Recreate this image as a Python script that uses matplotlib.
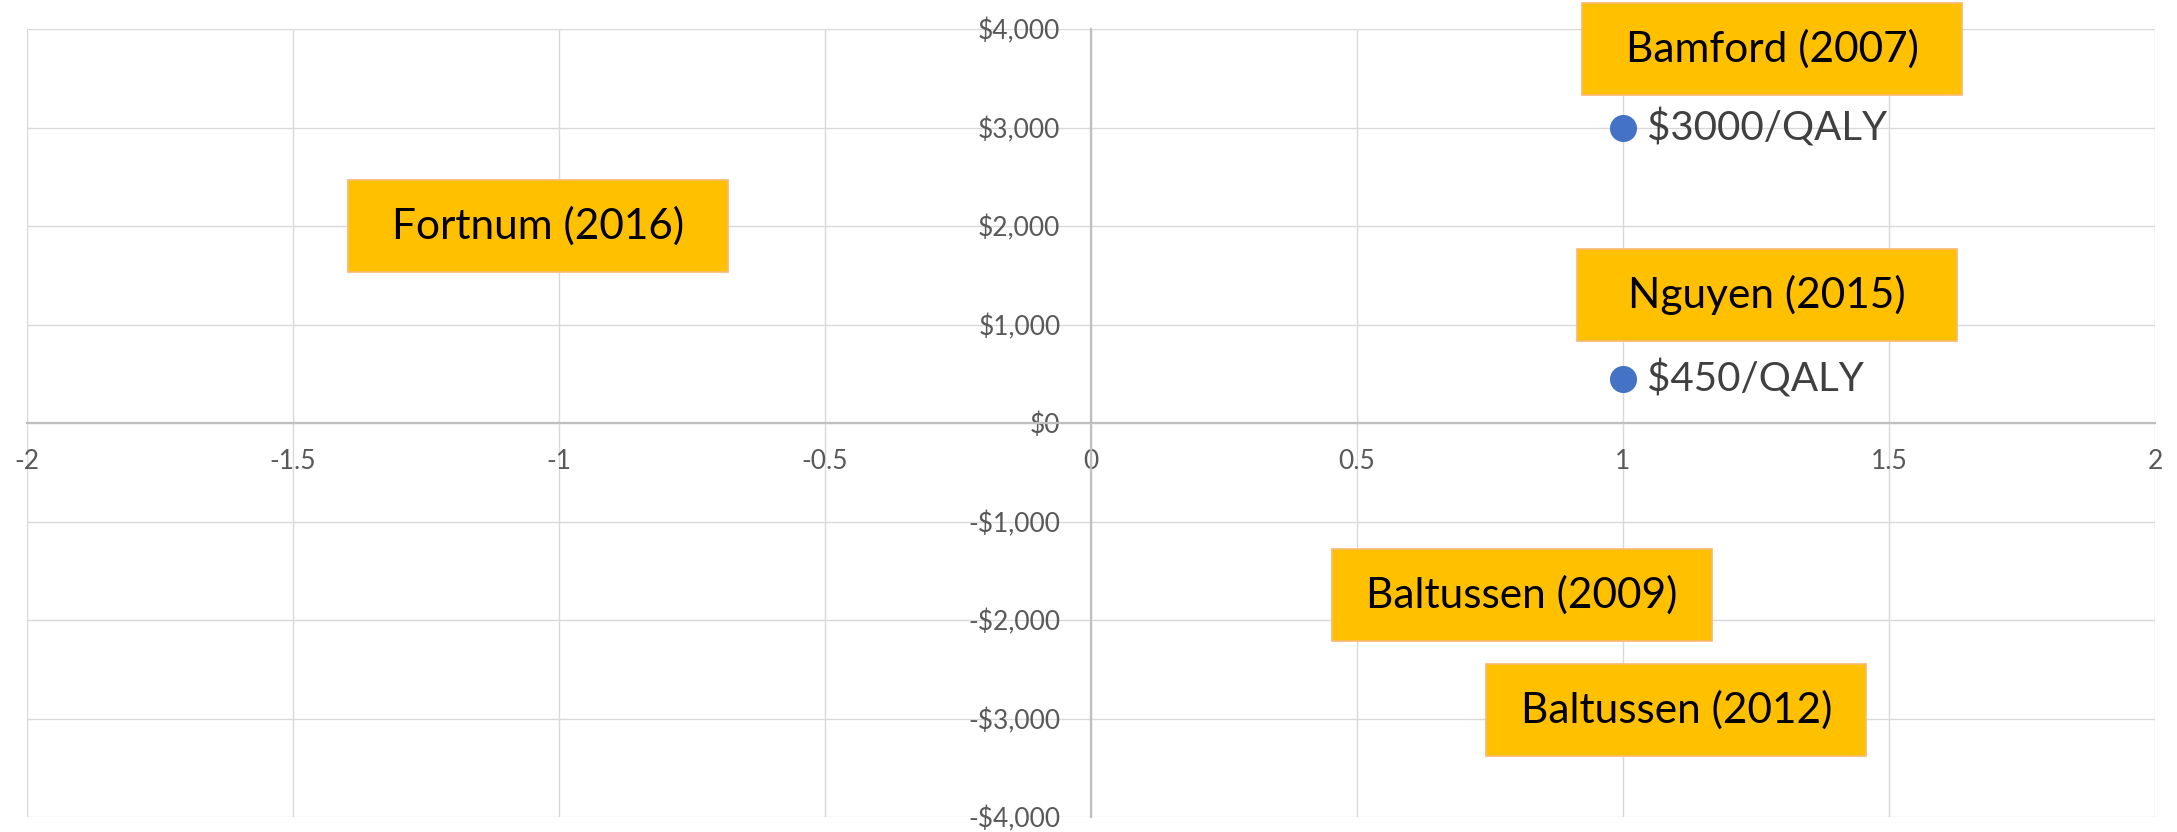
"""Cost-effectiveness plane: studies placed by QALY gain vs. incremental cost."""

import matplotlib

matplotlib.use("Agg")
import matplotlib.pyplot as plt  # noqa: E402
from matplotlib.patches import Rectangle  # noqa: E402

plt.rcParams["font.family"] = ["Lato", "DejaVu Sans"]

# data
point_x = [1, 1]
point_y = [3000, 450]
point_labels = ["$3000/QALY", "$450/QALY"]

study_names = ["Bamford (2007)", "Nguyen (2015)", "Fortnum (2016)",
               "Baltussen (2009)", "Baltussen (2012)"]
study_x = [1.28, 1.27, -1.04, 0.81, 1.10]
study_y = [3800, 1300, 2000, -1750, -2910]

x_ticks = [-2, -1.5, -1, -0.5, 0, 0.5, 1, 1.5, 2]
x_tick_labels = ["-2", "-1.5", "-1", "-0.5", "0", "0.5", "1", "1.5", "2"]
y_ticks = [-4000, -3000, -2000, -1000, 0, 1000, 2000, 3000, 4000]
y_tick_labels = ["-$4,000", "-$3,000", "-$2,000", "-$1,000", "$0",
                 "$1,000", "$2,000", "$3,000", "$4,000"]

fig = plt.figure(figsize=(21.77, 8.32), dpi=100)
ax = fig.add_axes([27 / 2177, 15 / 832, 2128 / 2177, 788 / 832])
ax.set_xlim(-2, 2)
ax.set_ylim(-4000, 4000)

ax.set_xticks(x_ticks)
ax.set_xticklabels(x_tick_labels)
ax.set_yticks(y_ticks)
ax.set_yticklabels(y_tick_labels)
ax.grid(True, color="#D9D9D9", lw=1.0, zorder=0)
ax.set_axisbelow(True)

for side in ("top", "right"):
    ax.spines[side].set_visible(False)
for side in ("left", "bottom"):
    ax.spines[side].set_position("zero")
    ax.spines[side].set_color("#BFBFBF")
    ax.spines[side].set_linewidth(1.6)
    ax.spines[side].set_zorder(1)
ax.tick_params(axis="y", length=0, pad=22, labelsize=19, labelcolor="#595959")
ax.tick_params(axis="x", length=0, pad=19, labelsize=19, labelcolor="#595959")

ax.scatter(point_x, point_y, s=19.5 ** 2, color="#4472C4", zorder=4, linewidths=0)
for x, y, lab in zip(point_x, point_y, point_labels):
    ax.annotate(lab, (x, y), xytext=(17, 0), textcoords="offset points",
                ha="left", va="center", fontsize=29, color="#404040", zorder=5)

box_w, box_h = 0.714, 934
for name, x, y in zip(study_names, study_x, study_y):
    ax.add_patch(Rectangle((x - box_w / 2, y - box_h / 2), box_w, box_h,
                           facecolor="#FFC000", edgecolor="#F8B870", lw=1.2,
                           zorder=5, clip_on=False))
    ax.text(x, y, name, ha="center", va="center", fontsize=30.5, color="black",
            zorder=6, clip_on=False)

fig.savefig("out.png", dpi=100)
plt.close(fig)
